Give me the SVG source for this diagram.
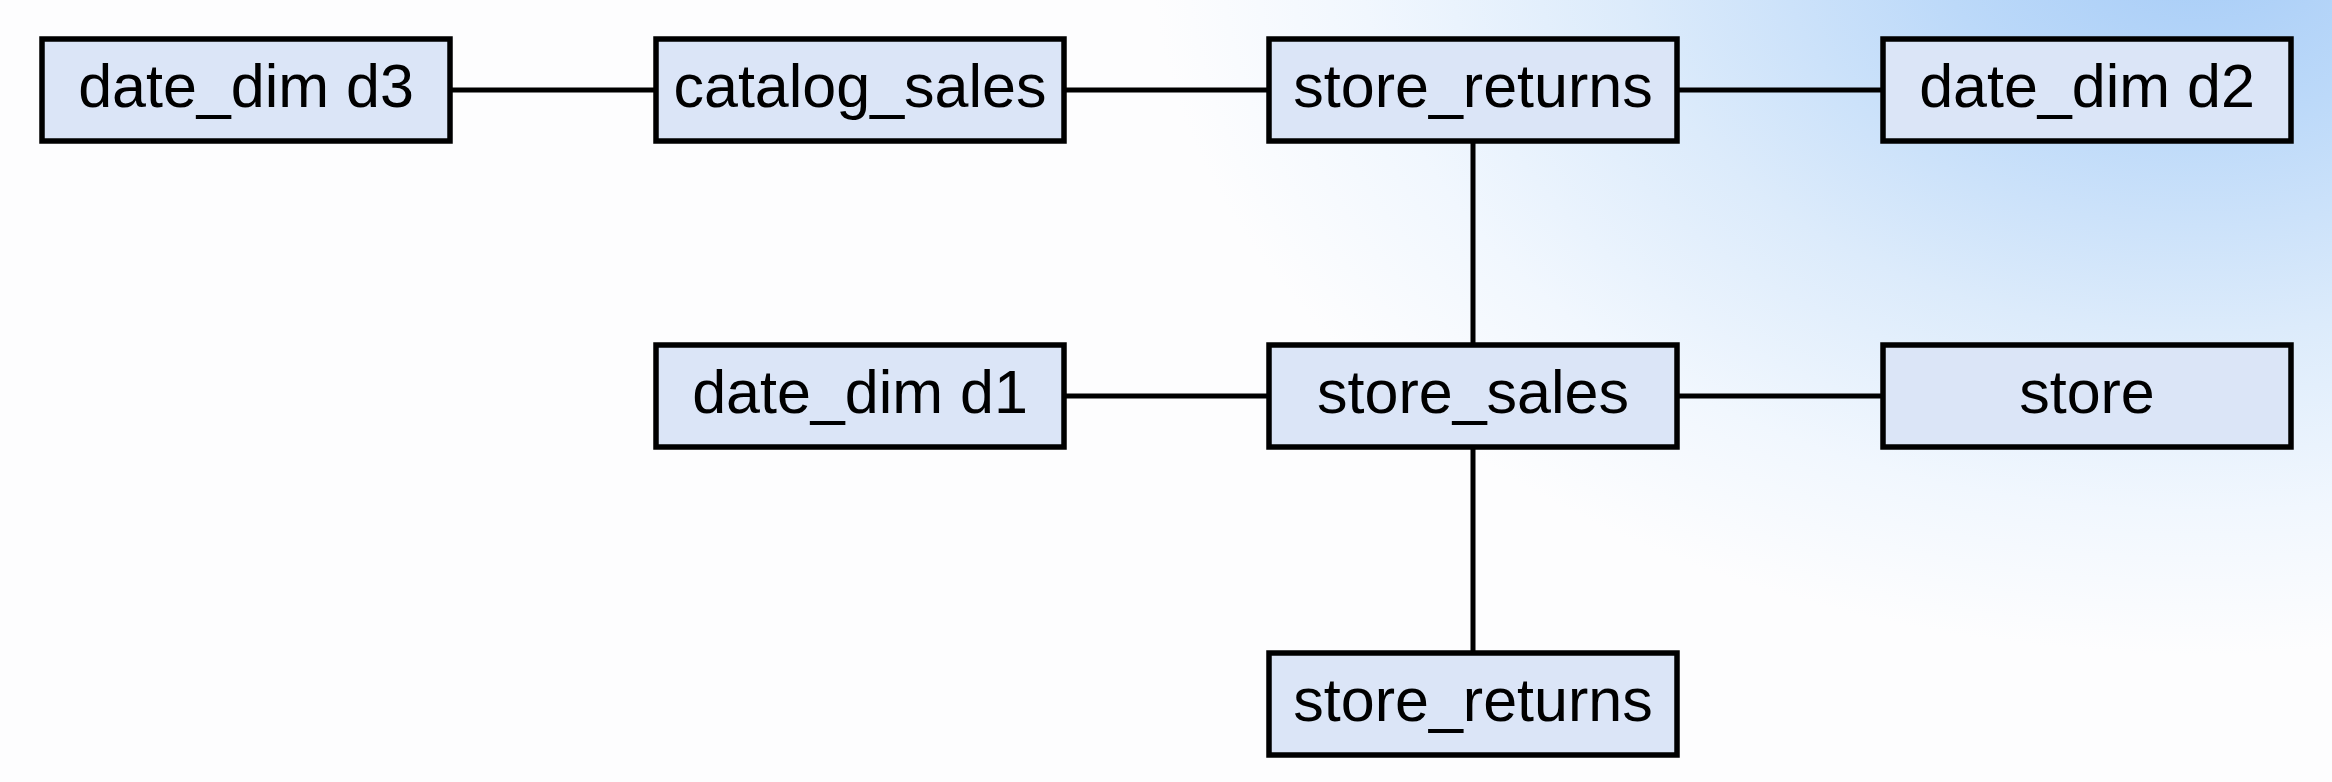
<svg xmlns="http://www.w3.org/2000/svg" width="2332" height="782" viewBox="0 0 2332 782">
<defs>
<radialGradient id="bg" gradientUnits="userSpaceOnUse" cx="2200" cy="-60" r="1050" gradientTransform="translate(2200 -60) scale(1 0.68) translate(-2200 60)">
<stop offset="0" stop-color="#a6ccf7"/>
<stop offset="0.25" stop-color="#bcd9f9"/>
<stop offset="0.55" stop-color="#dcebfb"/>
<stop offset="0.8" stop-color="#f1f7fe"/>
<stop offset="1" stop-color="#fdfdfe"/>
</radialGradient>
<style>
.box{fill:#dbe5f7;stroke:#000;stroke-width:5.5}
.lbl{font-family:"Liberation Sans",Arial,sans-serif;font-size:61px;fill:#000;text-anchor:middle}
.edge{stroke:#000;stroke-width:5;fill:none}
</style>
</defs>
<rect x="0" y="0" width="2332" height="782" fill="#fdfdfe"/>
<rect x="0" y="0" width="2332" height="782" fill="url(#bg)"/>
<g id="connectors">
<line class="edge" x1="452" y1="90" x2="654" y2="90"/>
<line class="edge" x1="1066" y1="90" x2="1267" y2="90"/>
<line class="edge" x1="1679" y1="90" x2="1881" y2="90"/>
<line class="edge" x1="1066" y1="396" x2="1267" y2="396"/>
<line class="edge" x1="1679" y1="396" x2="1881" y2="396"/>
<line class="edge" x1="1473" y1="143" x2="1473" y2="343"/>
<line class="edge" x1="1473" y1="449" x2="1473" y2="651"/>
</g>
<g id="date_dim_d3"><rect class="box" x="42" y="39" width="408" height="102"/><text class="lbl" x="246" y="107">date_dim d3</text></g>
<g id="catalog_sales"><rect class="box" x="656" y="39" width="408" height="102"/><text class="lbl" x="860" y="107">catalog_sales</text></g>
<g id="store_returns_top"><rect class="box" x="1269" y="39" width="408" height="102"/><text class="lbl" x="1473" y="107">store_returns</text></g>
<g id="date_dim_d2"><rect class="box" x="1883" y="39" width="408" height="102"/><text class="lbl" x="2087" y="107">date_dim d2</text></g>
<g id="date_dim_d1"><rect class="box" x="656" y="345" width="408" height="102"/><text class="lbl" x="860" y="413">date_dim d1</text></g>
<g id="store_sales"><rect class="box" x="1269" y="345" width="408" height="102"/><text class="lbl" x="1473" y="413">store_sales</text></g>
<g id="store"><rect class="box" x="1883" y="345" width="408" height="102"/><text class="lbl" x="2087" y="413">store</text></g>
<g id="store_returns_bottom"><rect class="box" x="1269" y="653" width="408" height="102"/><text class="lbl" x="1473" y="721">store_returns</text></g>
</svg>
